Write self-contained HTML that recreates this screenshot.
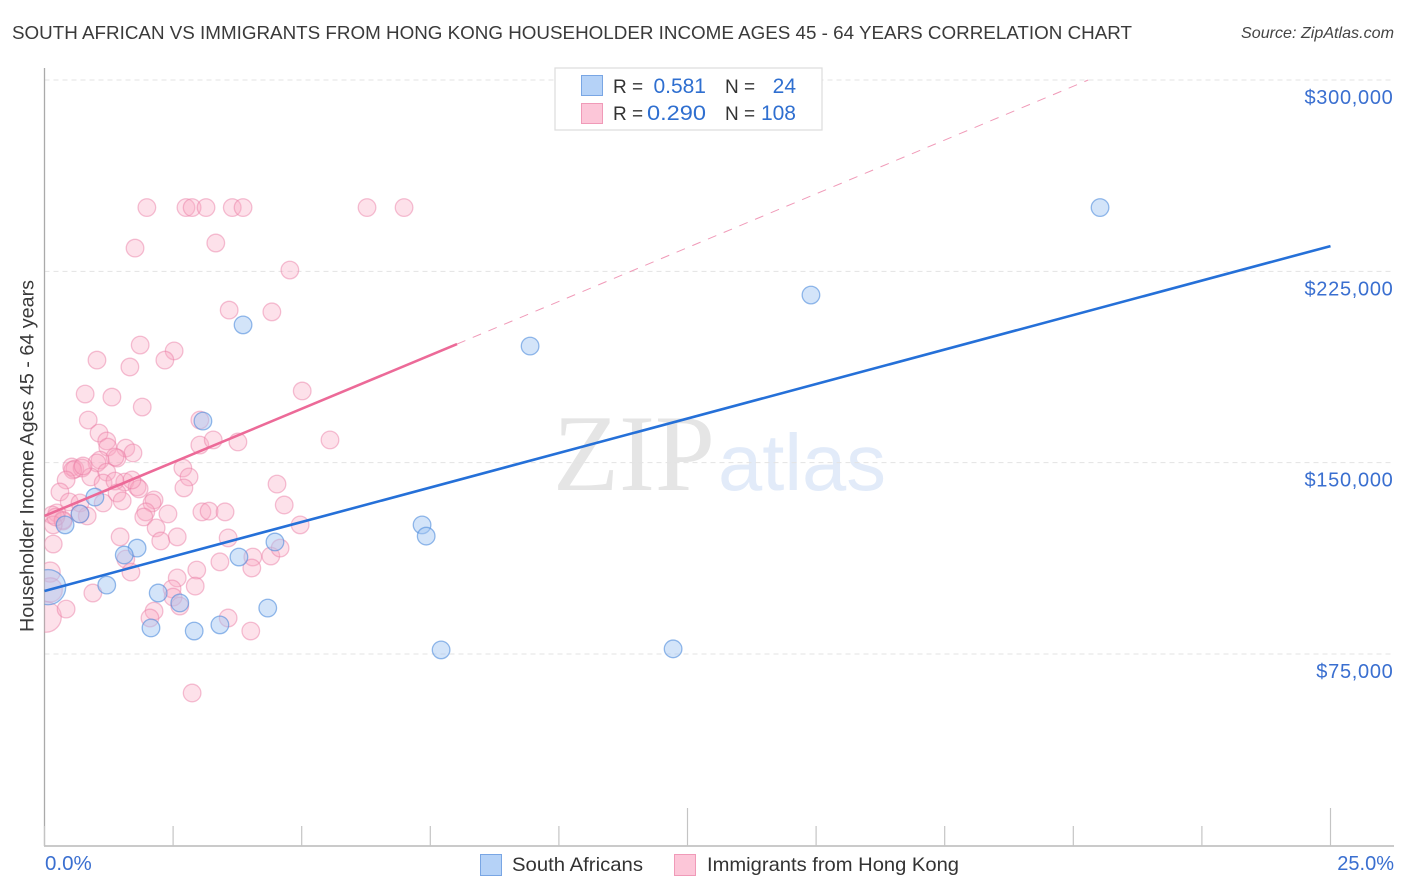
<!DOCTYPE html>
<html lang="en">
<head>
<meta charset="utf-8">
<title>South African vs Immigrants from Hong Kong Householder Income Correlation Chart</title>
<style>
html,body{margin:0;padding:0;background:#fff;}
svg{display:block;font-family:"Liberation Sans",Arial,sans-serif;}
</style>
</head>
<body>
<svg id="chart" xmlns="http://www.w3.org/2000/svg" width="1406" height="892" viewBox="0 0 1406 892">
  <defs>
    <clipPath id="plot-clip"><rect x="44.5" y="60" width="1350" height="786"/></clipPath>
  </defs>
  <rect x="0" y="0" width="1406" height="892" fill="#ffffff"/>
  <text x="12" y="39" font-size="18.5" fill="#3a3a3a" textLength="1120" lengthAdjust="spacingAndGlyphs">SOUTH AFRICAN VS IMMIGRANTS FROM HONG KONG HOUSEHOLDER INCOME AGES 45 - 64 YEARS CORRELATION CHART</text>
  <text x="1394" y="38" font-size="16" font-style="italic" fill="#444444" text-anchor="end" textLength="153" lengthAdjust="spacingAndGlyphs">Source: ZipAtlas.com</text>

  <g>
    <text x="553" y="490" font-family="'Liberation Serif',serif" font-size="109" fill="#e5e5e5" textLength="162" lengthAdjust="spacingAndGlyphs">ZIP</text>
    <text x="718" y="490" font-size="80" fill="#e2ebf9" textLength="168" lengthAdjust="spacingAndGlyphs">atlas</text>
  </g>

  <g id="grid"></g>
  <g id="axes"></g>
  <g id="pink-dots" clip-path="url(#plot-clip)"></g>
  <g id="blue-dots" clip-path="url(#plot-clip)"></g>
  <g id="trends"></g>

  <text transform="translate(33.5 456) rotate(-90)" font-size="19" fill="#3a3a3a" text-anchor="middle" textLength="352" lengthAdjust="spacingAndGlyphs">Householder Income Ages 45 - 64 years</text>
  <g id="y-labels"></g>
  <text x="45" y="870" font-size="20.5" fill="#3a6fd0">0.0%</text>
  <text x="1394" y="870" font-size="20" fill="#3a6fd0" text-anchor="end">25.0%</text>

  <g>
    <rect x="555" y="68" width="267" height="62" fill="#ffffff" stroke="#dcdcdc" stroke-width="1.2"/>
    <rect x="581.5" y="75.5" width="21" height="20" fill="#b5d2f7" stroke="#79a6e4"/>
    <rect x="581.5" y="103.5" width="21" height="20" fill="#fcc6d8" stroke="#f09ab8"/>
    <text x="613" y="93" font-size="19" fill="#333333">R =</text>
    <text x="706" y="93" font-size="21" fill="#2f6fd0" text-anchor="end">0.581</text>
    <text x="725" y="93" font-size="19" fill="#333333">N =</text>
    <text x="796" y="93" font-size="21" fill="#2f6fd0" text-anchor="end">24</text>
    <text x="613" y="120" font-size="19" fill="#333333">R =</text>
    <text x="706" y="120" font-size="21" fill="#2f6fd0" text-anchor="end" textLength="59" lengthAdjust="spacingAndGlyphs">0.290</text>
    <text x="725" y="120" font-size="19" fill="#333333">N =</text>
    <text x="796" y="120" font-size="21" fill="#2f6fd0" text-anchor="end">108</text>
  </g>

  <g>
    <rect x="480.5" y="854.5" width="21" height="21" fill="#b5d2f7" stroke="#79a6e4"/>
    <text x="512" y="871" font-size="19.5" fill="#333333" textLength="131" lengthAdjust="spacingAndGlyphs">South Africans</text>
    <rect x="674.5" y="854.5" width="21" height="21" fill="#fcc6d8" stroke="#f09ab8"/>
    <text x="707" y="871" font-size="19.5" fill="#333333" textLength="252" lengthAdjust="spacingAndGlyphs">Immigrants from Hong Kong</text>
  </g>
</svg>
<script>
// Share of population (%) and householder income ($ thousands)
const blueShare = [20.52,14.90,9.44,3.86,3.08,0.98,0.69,0.40,1.80,1.55,1.21,2.21,2.63,2.07,2.91,3.41,3.78,4.48,4.34,7.34,7.42,7.71,12.22];
const blueIncome = [250,215.7,195.7,204,166.3,136.5,129.9,125.6,116.5,113.8,102,98.9,95,85.2,84,86.4,113,118.9,93,125.6,121.2,76.6,77];
const blueBigShare = [0.07];
const blueBigIncome = [101.2];
const blueBigWeight = [4];

const pinkShare = [
  1.99,2.75,2.87,3.14,3.65,3.86,6.27,6.99,
  1.76,3.33,4.77,3.59,4.42,1.86,2.52,2.34,1.02,1.66,0.79,1.31,1.90,5.01,0.85,3.02,1.06,1.21,1.23,1.58,1.72,3.02,3.28,3.76,5.55,
  1.41,1.37,1.08,1.02,0.53,0.59,0.73,0.55,0.42,0.30,0.90,1.21,1.14,1.56,1.37,1.80,1.84,1.41,1.51,2.69,2.81,2.71,2.13,2.09,1.97,1.93,2.40,2.17,2.26,2.58,
  3.06,3.20,3.51,4.52,4.66,4.97,3.57,4.05,4.40,4.58,3.41,4.03,2.96,2.93,2.58,2.48,2.50,2.63,2.13,2.05,3.57,4.01,2.87,
  0.24,0.15,0.36,0.36,0.17,0.48,0.69,0.83,0.69,1.14,0.17,1.47,1.58,1.68,0.94,0.42,0.75,0.22,1.70
];
const pinkIncome = [
  250,250,250,250,250,250,250,250,
  234.1,236.1,225.5,209.8,209.1,196.1,193.8,190.2,190.2,187.5,176.9,175.7,171.8,178.1,166.7,166.7,161.6,158.5,156.1,155.7,153.8,156.9,158.9,158.1,158.9,
  151.8,152.2,151,149.9,148.3,147.5,147.9,147.1,143.2,138.5,144.4,146.3,142,142.4,142.8,140.5,139.7,138.1,135,147.9,144.4,140.1,135.4,134.2,130.7,128.7,129.9,124.4,119.3,120.9,
  130.7,131,130.7,141.6,133.4,125.6,120.5,113,113.4,116.5,111.1,108.7,107.9,101.6,104.8,100.5,97.3,93.8,91.8,89.1,89.1,84,59.7,
  130.3,129.5,127.5,127.1,125.6,134.6,134.2,129.1,129.9,134.2,118.1,120.9,112.2,107.1,98.9,92.6,148.7,128.7,143.2
];
const pinkBigShare = [0.11,0.11,0.03];
const pinkBigIncome = [107.1,100.1,89.5];
const pinkBigWeight = [1.3,1.9,3];

const yTicks = [300,225,150,75];
const yTickLabels = ["$300,000","$225,000","$150,000","$75,000"];
const xTicks = [0,2.5,5,7.5,10,12.5,15,17.5,20,22.5,25];
const xMajorTicks = [12.5,25];

const blueTrendShare = [0,25];
const blueTrendIncome = [99.7,234.9];
const pinkTrendShare = [0,8.02];
const pinkTrendIncome = [129.1,196.5];
const pinkDashShare = [8.02,20.29];
const pinkDashIncome = [196.5,300];

const NS = "http://www.w3.org/2000/svg";
const xScale = function (v) { return 44.5 + v * 51.44; };
const yScale = function (v) { return 80 + (300 - v) * 2.551; };
const baseRadius = 8.8;

function make(tag, parentId, attrs) {
  const el = document.createElementNS(NS, tag);
  Object.keys(attrs).forEach(function (k) { el.setAttribute(k, attrs[k]); });
  document.getElementById(parentId).appendChild(el);
  return el;
}

yTicks.forEach(function (v, i) {
  const line = make("line", "grid", {x1: 44.5, x2: 1394, y1: yScale(v), y2: yScale(v), stroke: "#e3e3e3", "stroke-width": 1, "stroke-dasharray": "5 4"});
  
  
  const label = make("text", "y-labels", {x: 1393.5, y: yScale(v) + 24, "font-size": 20, "letter-spacing": 0.7, fill: "#3a6fd0", "text-anchor": "end"});
  label.textContent = yTickLabels[i];
  
  
});

const yAxis = make("line", "axes", {x1: 44.5, x2: 44.5, y1: 68, y2: 846, stroke: "#aaaaaa", "stroke-width": 1.3});


const xAxis = make("line", "axes", {x1: 44, x2: 1394, y1: 846, y2: 846, stroke: "#aaaaaa", "stroke-width": 1.3});


xTicks.forEach(function (v) {
  const major = xMajorTicks.indexOf(v) >= 0;
  const tick = make("line", "axes", {x1: xScale(v), x2: xScale(v), y1: major ? 808 : 826, y2: 846, stroke: "#c4c4c4", "stroke-width": 1.2});
  
  
});

function drawPink(share, income, weight) {
  const c = make("circle", "pink-dots", {cx: xScale(share), cy: yScale(income), r: baseRadius * Math.sqrt(weight), fill: "#f9a8c2", "fill-opacity": 0.34, stroke: "#ea7ea5", "stroke-opacity": 0.48, "stroke-width": 1.3});
  
  
}
function drawBlue(share, income, weight) {
  const c = make("circle", "blue-dots", {cx: xScale(share), cy: yScale(income), r: baseRadius * Math.sqrt(weight), fill: "#a4c6f2", "fill-opacity": 0.48, stroke: "#4f8cdc", "stroke-opacity": 0.6, "stroke-width": 1.3});
  
  
}
pinkBigShare.forEach(function (s, i) { drawPink(s, pinkBigIncome[i], pinkBigWeight[i]); });
pinkShare.forEach(function (s, i) { drawPink(s, pinkIncome[i], 1); });
blueBigShare.forEach(function (s, i) { drawBlue(s, blueBigIncome[i], blueBigWeight[i]); });
blueShare.forEach(function (s, i) { drawBlue(s, blueIncome[i], 1); });

const pinkDash = make("line", "trends", {x1: xScale(pinkDashShare[0]), y1: yScale(pinkDashIncome[0]), x2: xScale(pinkDashShare[1]), y2: yScale(pinkDashIncome[1]), stroke: "#f09ab8", "stroke-width": 1, "stroke-dasharray": "9 8"});


const pinkTrend = make("line", "trends", {x1: xScale(pinkTrendShare[0]), y1: yScale(pinkTrendIncome[0]), x2: xScale(pinkTrendShare[1]), y2: yScale(pinkTrendIncome[1]), stroke: "#ec6a98", "stroke-width": 2.6});


const blueTrend = make("line", "trends", {x1: xScale(blueTrendShare[0]), y1: yScale(blueTrendIncome[0]), x2: xScale(blueTrendShare[1]), y2: yScale(blueTrendIncome[1]), stroke: "#2570d8", "stroke-width": 2.6});


</script>
</body>
</html>
